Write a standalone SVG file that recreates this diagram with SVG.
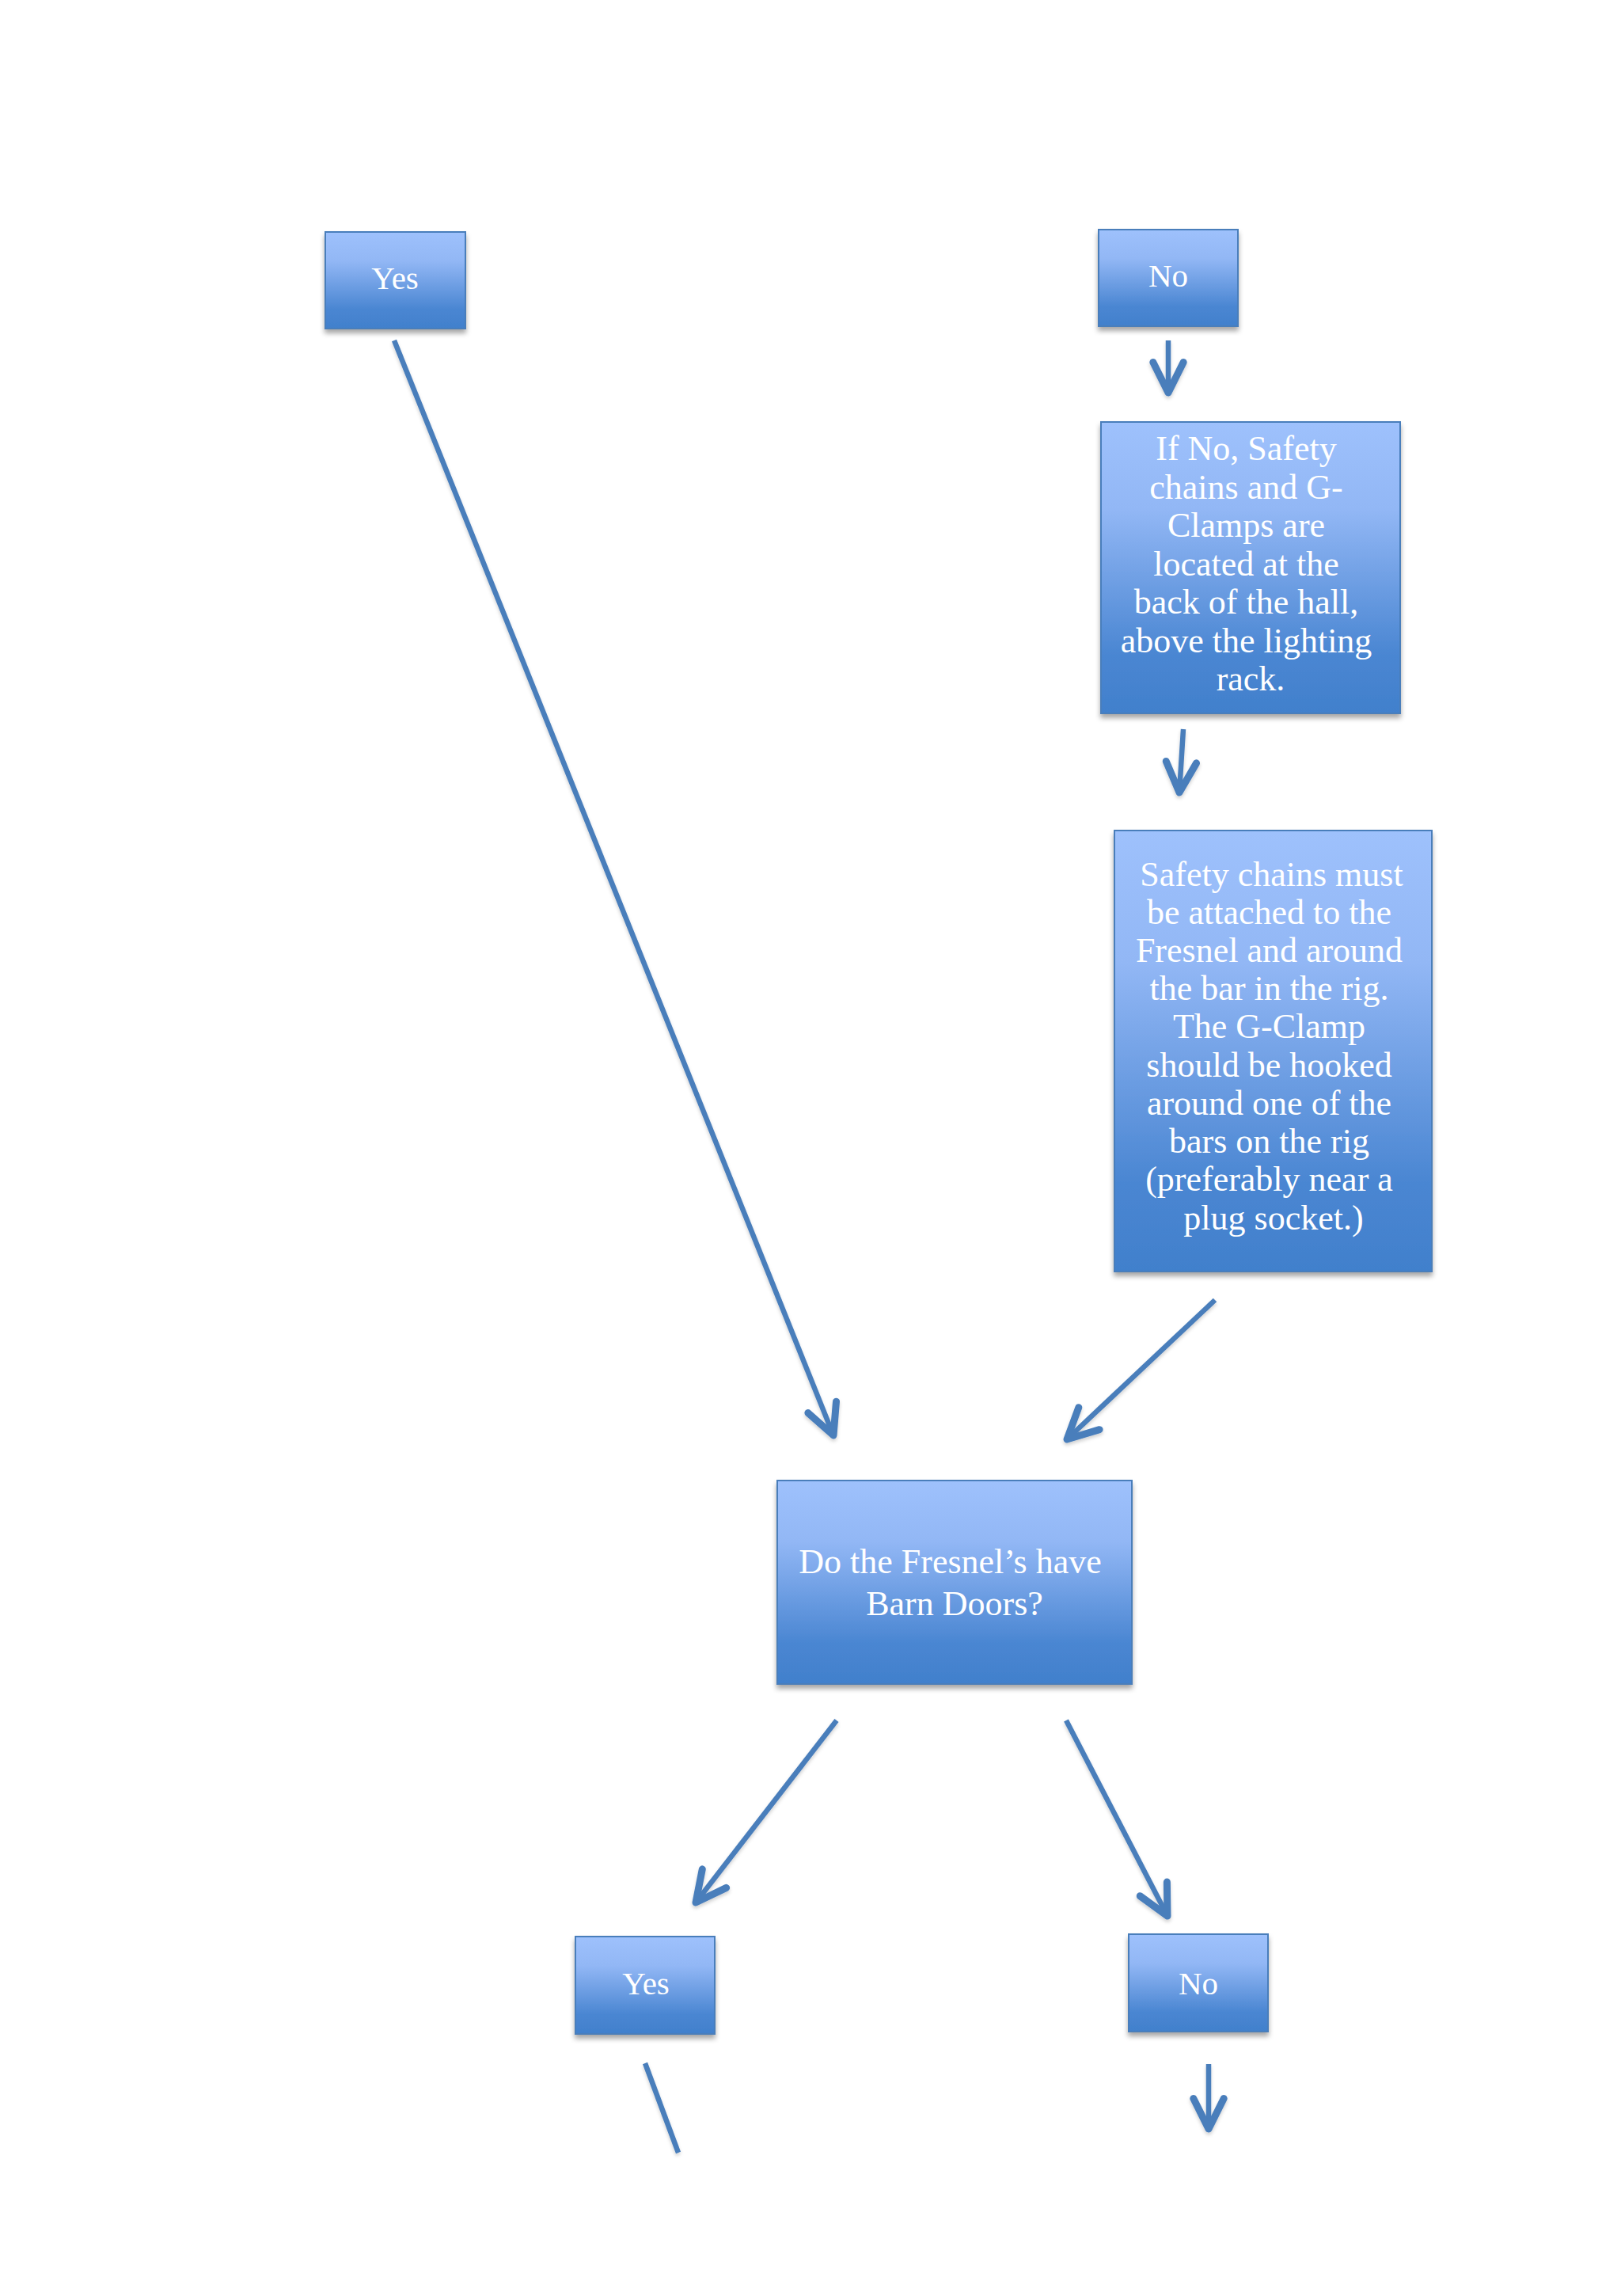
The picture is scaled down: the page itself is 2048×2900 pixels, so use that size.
<svg xmlns="http://www.w3.org/2000/svg" width="2048" height="2900" viewBox="0 0 2048 2900">
  <defs>
    <linearGradient id="boxFill" x1="0" y1="0" x2="0" y2="1">
      <stop offset="0" stop-color="#9ec1fc"/>
      <stop offset="0.3" stop-color="#92b7f5"/>
      <stop offset="0.8" stop-color="#4a86d2"/>
      <stop offset="1" stop-color="#4180cc"/>
    </linearGradient>
    <filter id="boxShadow" x="-10%" y="-10%" width="120%" height="130%">
      <feDropShadow dx="0" dy="5" stdDeviation="3" flood-color="#000" flood-opacity="0.35"/>
    </filter>
    <filter id="lineShadow" filterUnits="userSpaceOnUse" x="0" y="0" width="2048" height="2900">
      <feDropShadow dx="0" dy="3" stdDeviation="2" flood-color="#000" flood-opacity="0.18"/>
    </filter>
    <marker id="chev" markerUnits="userSpaceOnUse" orient="auto" refX="0" refY="0" markerWidth="60" markerHeight="60" viewBox="-40 -25 50 50" overflow="visible">
      <path d="M -32,-16 L 0,0 L -32,16" fill="none" stroke="#4a7ebb" stroke-width="7.5" stroke-linecap="round" stroke-linejoin="round"/>
    </marker>
  </defs>
  <style>
    .box { fill: url(#boxFill); stroke: #4a7ebb; stroke-width: 2; filter: url(#boxShadow); }
    .lbl { font-family: "Liberation Serif", "DejaVu Serif", serif; fill: #ffffff; text-anchor: middle; }
    .yn { font-size: 41px; }
    .body { font-size: 44px; }
    .conn { stroke: #4a7ebb; stroke-width: 6.5; fill: none; filter: url(#lineShadow); }
    .arrow { marker-end: url(#chev); }
  </style>
  <rect width="2048" height="2900" fill="#ffffff"/>

  <g id="connectors">
    <line class="conn arrow" x1="498" y1="430" x2="1053" y2="1813"/>
    <line class="conn arrow" x1="1476" y1="430" x2="1476" y2="496"/>
    <line class="conn arrow" x1="1495" y1="921" x2="1490" y2="1001"/>
    <line class="conn arrow" x1="1535" y1="1642" x2="1348" y2="1818"/>
    <line class="conn arrow" x1="1057" y1="2173" x2="879" y2="2403"/>
    <line class="conn arrow" x1="1347" y1="2173" x2="1475" y2="2420"/>
    <line class="conn" x1="815" y1="2606" x2="857" y2="2719"/>
    <line class="conn arrow" x1="1527" y1="2607" x2="1527" y2="2689"/>
  </g>

  <g id="yes1">
    <rect class="box" x="411" y="293" width="177" height="122"/>
    <text class="lbl yn" x="499" y="365">Yes</text>
  </g>

  <g id="no1">
    <rect class="box" x="1388" y="290" width="176" height="122"/>
    <text class="lbl yn" x="1476" y="362">No</text>
  </g>

  <g id="location">
    <rect class="box" x="1391" y="533" width="378" height="368"/>
    <text class="lbl body">
      <tspan x="1580" y="581">If No, Safety</tspan>
      <tspan x="1580" y="629.5">chains and G-</tspan>
      <tspan x="1580" y="678">Clamps are</tspan>
      <tspan x="1580" y="726.5">located at the</tspan>
      <tspan x="1580" y="775">back of the hall,</tspan>
      <tspan x="1580" y="823.5">above the lighting</tspan>
      <tspan x="1580" y="872">rack.</tspan>
    </text>
  </g>

  <g id="attach">
    <rect class="box" x="1408" y="1049" width="401" height="557"/>
    <text class="lbl body">
      <tspan x="1612" y="1119">Safety chains must</tspan>
      <tspan x="1609" y="1167">be attached to the</tspan>
      <tspan x="1609" y="1215">Fresnel and around</tspan>
      <tspan x="1609" y="1263">the bar in the rig.</tspan>
      <tspan x="1609" y="1311">The G-Clamp</tspan>
      <tspan x="1609" y="1360">should be hooked</tspan>
      <tspan x="1609" y="1408">around one of the</tspan>
      <tspan x="1609" y="1456">bars on the rig</tspan>
      <tspan x="1609" y="1504">(preferably near a</tspan>
      <tspan x="1609" y="1553">plug socket.)</tspan>
    </text>
  </g>

  <g id="barndoors">
    <rect class="box" x="982" y="1870" width="448" height="257"/>
    <text class="lbl body">
      <tspan x="1206" y="1987">Do the Fresnel’s have</tspan>
      <tspan x="1206" y="2040">Barn Doors?</tspan>
    </text>
  </g>

  <g id="yes2">
    <rect class="box" x="727" y="2446" width="176" height="123"/>
    <text class="lbl yn" x="816" y="2519">Yes</text>
  </g>

  <g id="no2">
    <rect class="box" x="1426" y="2443" width="176" height="123"/>
    <text class="lbl yn" x="1514" y="2519">No</text>
  </g>
</svg>
